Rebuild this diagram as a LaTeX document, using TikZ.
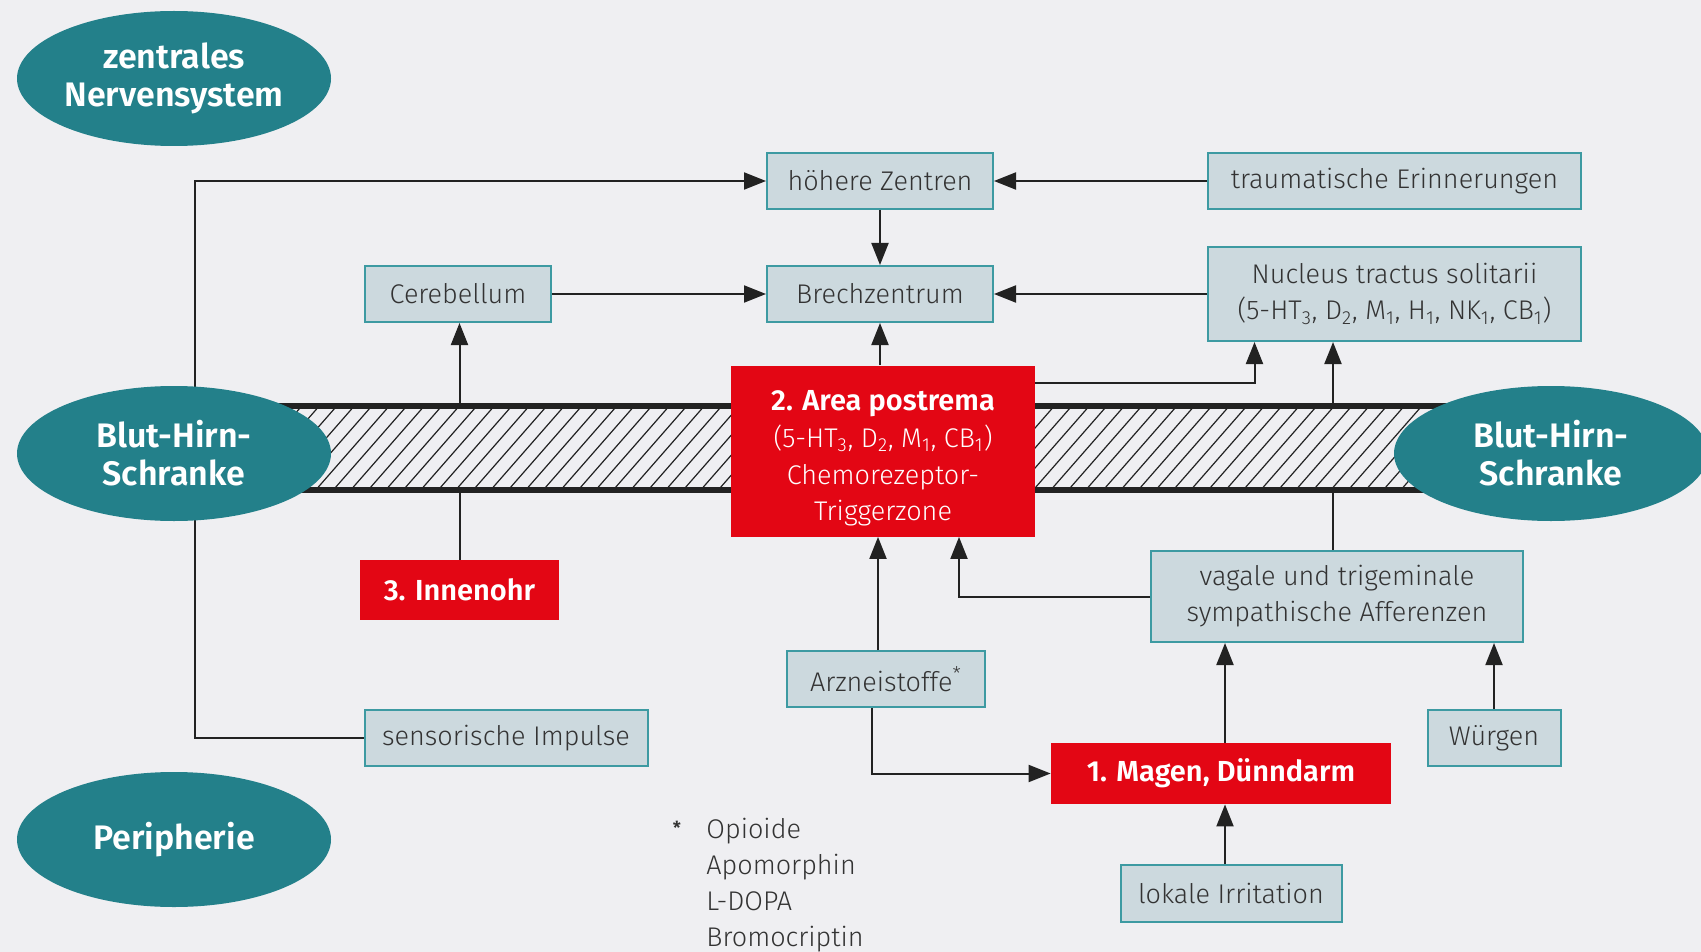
\documentclass[tikz,border=0pt]{standalone}
\usepackage{fontspec}
\setmainfont{Fira Sans Light}[BoldFont=Fira Sans SemiBold]
\usetikzlibrary{arrows.meta,positioning,shapes.geometric}

\definecolor{bgc}{HTML}{EFEFF2}
\definecolor{tealc}{HTML}{23808A}
\definecolor{boxfill}{HTML}{CCD9DE}
\definecolor{boxline}{HTML}{3D9AA2}
\definecolor{redc}{HTML}{E30614}
\definecolor{txt}{HTML}{333333}
\definecolor{linec}{HTML}{222222}

\begin{document}
\begin{tikzpicture}[x=0.5pt,y=-0.5pt,
  box/.style={draw=boxline,fill=boxfill,line width=1pt,text=txt,
    font=\fontsize{13.5}{18}\selectfont,minimum height=28pt,inner sep=0pt,align=center},
  redbox/.style={fill=redc,text=white,font=\bfseries\fontsize{14.5}{18}\selectfont,
    inner sep=0pt,align=center},
  oval/.style={ellipse,fill=tealc,text=white,font=\bfseries\fontsize{17}{19}\selectfont,
    minimum width=157pt,minimum height=67.5pt,inner sep=0pt,align=center},
  arr/.style={-{Triangle[length=11pt,width=8.5pt]},line width=1pt,draw=linec}]

  % Background
  \useasboundingbox (0,0) rectangle (1701,952);
  \fill[bgc] (0,0) rectangle (1701,952);

  % Boxes
  \node[box,minimum width=113pt] (hoeher) at (880,181) {höhere Zentren};
  \node[box,minimum width=186.5pt] (trauma) at (1394.5,181) {traumatische Erinnerungen};
  \node[box,minimum width=93pt] (cereb) at (458,294) {Cerebellum};
  \node[box,minimum width=113pt] (brech) at (880,294) {Brechzentrum};
  \node[box,minimum width=186.5pt,minimum height=47pt] (nts) at (1394.5,294)
    {Nucleus tractus solitarii\\(5-HT\textsubscript{3}, D\textsubscript{2}, M\textsubscript{1}, H\textsubscript{1}, NK\textsubscript{1}, CB\textsubscript{1})};
  \node[box,minimum width=186pt,minimum height=45.5pt] (vagal) at (1337,596.5)
    {vagale und trigeminale\\sympathische Afferenzen};
  \node[box,minimum width=99pt] (arznei) at (886,679) {Arzneistoffe\textsuperscript{*}};
  \node[box,minimum width=141.5pt] (sensor) at (506,738) {sensorische Impulse};
  \node[box,minimum width=66.5pt] (wuergen) at (1494,738) {Würgen};
  \node[box,minimum width=110.5pt,minimum height=28.5pt] (lokal) at (1231,893) {lokale Irritation};

  % Red boxes
  \node[redbox,minimum width=152pt,minimum height=85.5pt,
    font=\fontsize{13.5}{18.3}\selectfont] (area) at (883,451)
    {\rule{0pt}{17.5pt}\textbf{\fontsize{14.5}{18.3}\selectfont 2. Area postrema}\\(5-HT\textsubscript{3}, D\textsubscript{2}, M\textsubscript{1}, CB\textsubscript{1})\\Chemorezeptor-\\Triggerzone};
  \node[redbox,minimum width=99.5pt,minimum height=30pt] (innen) at (459.5,590) {3. Innenohr};
  \node[redbox,minimum width=170pt,minimum height=30.5pt] (magen) at (1221,773.5) {1. Magen, Dünndarm};

  % Footnote
  \node[text=txt,font=\bfseries\fontsize{9}{9}\selectfont] (stern) at (677,828) {*};
  \node[text=txt,font=\fontsize{13.5}{17.9}\selectfont,align=left,anchor=north west,inner sep=0pt]
    (liste) at (706,818) {Opioide\\Apomorphin\\L-DOPA\\Bromocriptin};

  % Connectors
  \coordinate (links) at (195,181);
  \draw[arr] (sensor.west) -| (links) -- (hoeher.west);
  \draw[arr] (trauma.west) -- (hoeher.east);
  \draw[arr] (hoeher.south) -- (brech.north);
  \draw[arr] (cereb.east) -- (brech.west);
  \draw[arr] (nts.west) -- (brech.east);
  \draw[arr] (area.north -| brech.south) -- (brech.south);
  \draw[arr] (innen.north) -- (innen.north |- cereb.south);
  \draw[arr] ([yshift=-9pt]area.north east) -| ([xshift=-70pt]nts.south);
  \draw[arr] ([xshift=-2pt]vagal.north) -- ([xshift=-2pt]vagal.north |- nts.south);
  \draw[arr] (vagal.west) -| ([xshift=38pt]area.south);
  \draw[arr] ([xshift=-4pt]arznei.north) -- ([xshift=-4pt]arznei.north |- area.south);
  \draw[arr] ([xshift=-7pt]arznei.south) |- (magen.west);
  \draw[arr] ([xshift=2pt]magen.north) -- ([xshift=2pt]magen.north |- vagal.south);
  \draw[arr] (wuergen.north) -- (wuergen.north |- vagal.south);
  \draw[arr] ([xshift=2pt]lokal.north -| magen.south) -- ([xshift=2pt]magen.south);

  % Blut-Hirn-Schranke band
  \foreach \a/\b in {250/731,1035/1460} {
    \begin{scope}
      \clip (\a,408) rectangle (\b,488);
      \fill[bgc] (\a,408) rectangle (\b,488);
      \foreach \x in {160,177.5,...,1480}
        \draw[linec,line width=0.6pt] (\x,488) -- ++(70,-80);
    \end{scope}
    \draw[linec,line width=2.6pt] (\a,406) -- (\b,406);
    \draw[linec,line width=2.6pt] (\a,490) -- (\b,490);
  }

  % Ovals
  \node[oval] (zns) at (174,78.5) {zentrales\\Nervensystem};
  \node[oval] (bhsl) at (174,453.5) {Blut-Hirn-\\Schranke};
  \node[oval] (bhsr) at (1551,453.5) {Blut-Hirn-\\Schranke};
  \node[oval] (peri) at (174,839.5) {Peripherie};
\end{tikzpicture}
\end{document}
